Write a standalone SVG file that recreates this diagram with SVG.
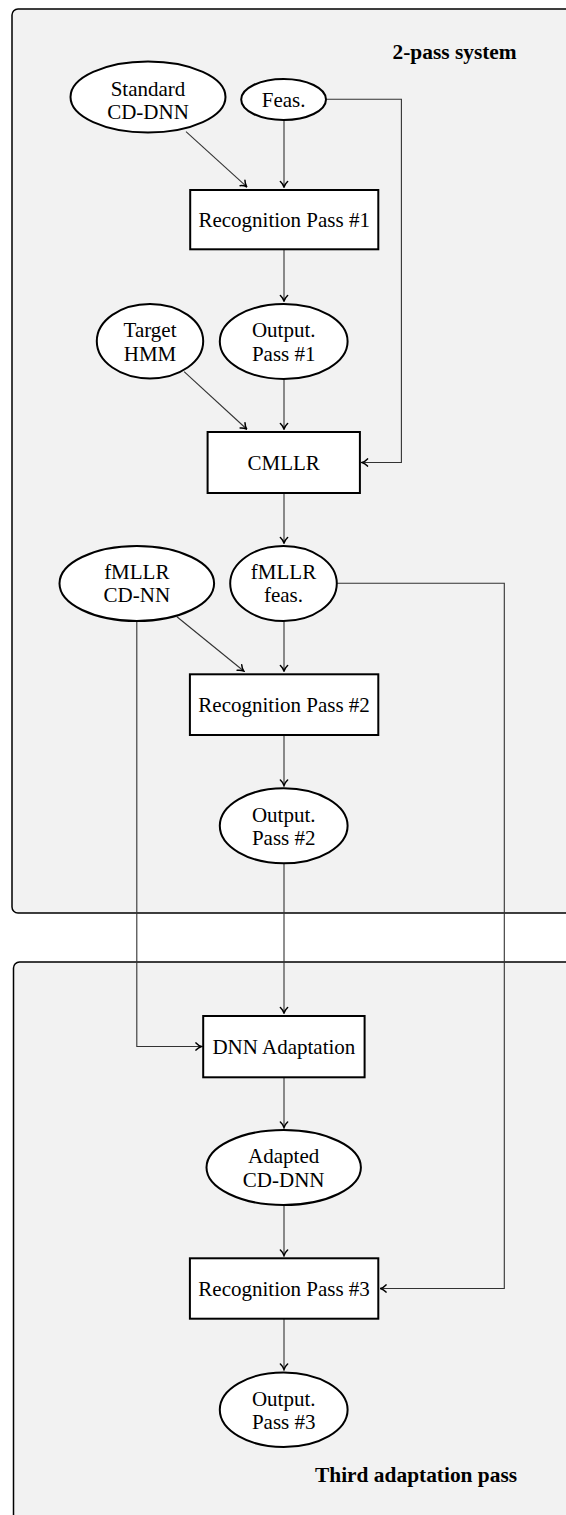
<svg xmlns="http://www.w3.org/2000/svg" width="566" height="1515" viewBox="0 0 566 1515">
<defs>
<style>
.cont{fill:#f2f2f2;stroke:#000;stroke-width:1.5}
.nd{fill:#fff;stroke:#000;stroke-width:2}
.t{font-family:"Liberation Serif","Times New Roman",serif;font-size:21px;fill:#000;text-anchor:middle}
.b{font-family:"Liberation Serif","Times New Roman",serif;font-size:21.4px;font-weight:bold;fill:#000}
.c{fill:none;stroke:#333;stroke-width:1.1;marker-end:url(#ah)}
</style>
<marker id="ah" markerUnits="userSpaceOnUse" viewBox="-7 -5 8 10" refX="0" refY="0" markerWidth="8" markerHeight="10" orient="auto">
<path d="M-5.5,-3.6 C-3.6,-1.6 -1.6,-0.5 0,0 C-1.6,0.5 -3.6,1.6 -5.5,3.6" fill="none" stroke="#000" stroke-width="1.5" stroke-linecap="round"/>
</marker>
</defs>
<g id="containers">
<rect class="cont" x="12" y="9" width="600" height="904" rx="6"/>
<rect class="cont" x="13.5" y="962" width="600" height="600" rx="6"/>
<text class="b" x="392.5" y="59">2-pass system</text>
<text class="b" x="315" y="1482">Third adaptation pass</text>
</g>
<g id="connectors">
<path class="c" d="M186,131.7 L246.6,186.7"/>
<path class="c" d="M284,120 L284,187"/>
<path class="c" d="M326,99.3 L401.4,99.3 L401.4,462.5 L362,462.5"/>
<path class="c" d="M284,249.3 L284,301"/>
<path class="c" d="M184.1,371.7 L246.6,429"/>
<path class="c" d="M284,379 L284,429"/>
<path class="c" d="M284,493 L284,543"/>
<path class="c" d="M176.9,616.7 L243.7,671"/>
<path class="c" d="M284,621 L284,671"/>
<path class="c" d="M336.8,583.3 L504.3,583.3 L504.3,1288.5 L380.5,1288.5"/>
<path class="c" d="M284,735 L284,785.5"/>
<path class="c" d="M136.8,621 L136.8,1046.5 L201.5,1046.5"/>
<path class="c" d="M284,863.3 L284,1013"/>
<path class="c" d="M284,1077.3 L284,1127.5"/>
<path class="c" d="M284,1205 L284,1255.5"/>
<path class="c" d="M284,1318.7 L284,1369.5"/>
</g>
<g id="n-standard">
<ellipse class="nd" cx="148" cy="97" rx="77.5" ry="35.5"/>
<text class="t" x="148" y="96">Standard</text>
<text class="t" x="148" y="118.5">CD-DNN</text>
</g>
<g id="n-feas">
<ellipse class="nd" cx="283.6" cy="99.5" rx="42.4" ry="20.5"/>
<text class="t" x="283.6" y="106.5">Feas.</text>
</g>
<g id="n-rec1">
<rect class="nd" x="190.2" y="190" width="188.1" height="59.3"/>
<text class="t" x="284.2" y="226.5">Recognition Pass #1</text>
</g>
<g id="n-target">
<ellipse class="nd" cx="150" cy="341.2" rx="53.2" ry="37.2"/>
<text class="t" x="150" y="337.3">Target</text>
<text class="t" x="150" y="360.7">HMM</text>
</g>
<g id="n-out1">
<ellipse class="nd" cx="283.7" cy="341.5" rx="63.9" ry="37.5"/>
<text class="t" x="283.7" y="337.3">Output.</text>
<text class="t" x="283.7" y="360.7">Pass #1</text>
</g>
<g id="n-cmllr">
<rect class="nd" x="207.6" y="432" width="152.3" height="61"/>
<text class="t" x="283.7" y="470">CMLLR</text>
</g>
<g id="n-fmllr-nn">
<ellipse class="nd" cx="136.8" cy="583.5" rx="77.3" ry="37.5"/>
<text class="t" x="136.8" y="579">fMLLR</text>
<text class="t" x="136.8" y="602.3">CD-NN</text>
</g>
<g id="n-fmllr-feas">
<ellipse class="nd" cx="283.5" cy="583.5" rx="53.3" ry="37.5"/>
<text class="t" x="283.5" y="579">fMLLR</text>
<text class="t" x="283.5" y="602.3">feas.</text>
</g>
<g id="n-rec2">
<rect class="nd" x="189.9" y="674.3" width="188.4" height="60.7"/>
<text class="t" x="284.1" y="711.5">Recognition Pass #2</text>
</g>
<g id="n-out2">
<ellipse class="nd" cx="283.7" cy="825.8" rx="63.9" ry="37.5"/>
<text class="t" x="283.7" y="821.8">Output.</text>
<text class="t" x="283.7" y="845">Pass #2</text>
</g>
<g id="n-dnnadapt">
<rect class="nd" x="203.2" y="1016" width="161.4" height="61.3"/>
<text class="t" x="283.9" y="1053.7">DNN Adaptation</text>
</g>
<g id="n-adapted">
<ellipse class="nd" cx="283.7" cy="1167.5" rx="77.2" ry="37.5"/>
<text class="t" x="283.7" y="1163.3">Adapted</text>
<text class="t" x="283.7" y="1186.5">CD-DNN</text>
</g>
<g id="n-rec3">
<rect class="nd" x="189.9" y="1258.3" width="188.4" height="60.4"/>
<text class="t" x="284.1" y="1295.5">Recognition Pass #3</text>
</g>
<g id="n-out3">
<ellipse class="nd" cx="283.7" cy="1409.7" rx="63.9" ry="37.3"/>
<text class="t" x="283.7" y="1405.5">Output.</text>
<text class="t" x="283.7" y="1428.7">Pass #3</text>
</g>
</svg>
